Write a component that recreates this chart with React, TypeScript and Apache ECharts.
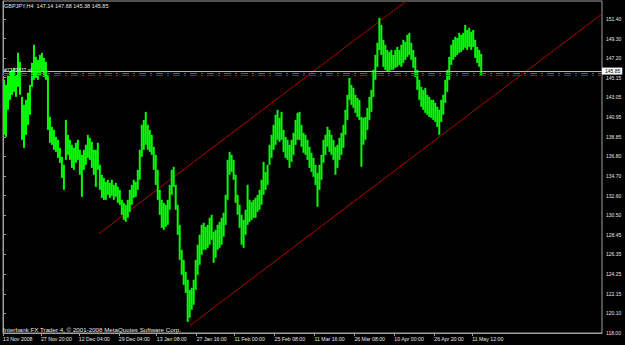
import React, { useEffect, useRef } from "react";
import * as echarts from "echarts";

const symbolTitle = "GBPJPY,H4  147.14 147.68 145.38 145.85";
const copyright = "Interbank FX Trader 4, © 2001-2008 MetaQuotes Software Corp.";

const priceTicks = [118.0, 120.1, 122.15, 124.25, 126.35, 128.45, 130.5, 132.6, 134.7, 136.8, 138.85, 140.95, 143.05, 145.15, 147.2, 149.3, 151.4];

const timeLabels = ["13 Nov 2008", "27 Nov 20:00", "12 Dec 04:00", "29 Dec 04:00", "13 Jan 08:00", "27 Jan 16:00", "11 Feb 00:00", "25 Feb 08:00", "11 Mar 16:00", "26 Mar 08:00", "10 Apr 00:00", "26 Apr 20:00", "11 May 12:00"];
const timeLabelBars = [0, 19, 38, 58, 77, 97, 116, 136, 156, 176, 196, 216, 235];

const barHighs = [
  144.92, 144.38, 145.45, 145.77, 145.98, 146.19, 145.45, 147.79, 146.83, 143.11,
  142.26, 142.79, 143.53, 144.38, 146.72, 148.64, 147.36, 147.04, 147.57, 147.79,
  147.25, 146.83, 145.45, 140.98, 139.92, 139.60, 138.86, 138.54, 137.69, 136.73,
  135.88, 140.66, 139.07, 138.54, 138.01, 137.69, 138.22, 138.54, 137.48, 136.94,
  137.48, 138.01, 139.07, 138.75, 138.33, 137.48, 137.48, 138.22, 135.88, 134.82,
  134.50, 134.07, 134.29, 133.97, 134.29, 133.75, 133.97, 133.54, 133.22, 132.16,
  131.84, 131.63, 132.16, 133.22, 133.75, 134.29, 134.07, 135.35, 137.48, 140.13,
  140.66, 141.51, 140.13, 139.60, 139.07, 137.80, 136.94, 135.35, 133.22, 132.16,
  131.84, 131.63, 132.16, 133.75, 135.35, 135.67, 133.75, 131.63, 129.50, 126.85,
  125.78, 124.51, 123.66, 122.59, 122.81, 123.66, 125.78, 127.38, 128.44, 129.50,
  129.72, 129.29, 129.50, 130.25, 130.57, 128.76, 128.97, 129.50, 129.82, 130.25,
  130.78, 132.69, 136.41, 137.26, 136.94, 136.41, 134.82, 132.69, 131.63, 130.57,
  130.03, 131.10, 133.75, 132.16, 131.95, 132.16, 132.37, 132.69, 133.22, 134.29,
  136.20, 135.13, 135.88, 138.01, 139.07, 140.13, 141.20, 141.73, 140.88, 141.51,
  139.60, 138.86, 138.54, 138.01, 138.54, 139.28, 140.66, 141.41, 141.51, 140.13,
  139.28, 139.07, 138.54, 137.80, 137.16, 136.62, 135.88, 135.03, 135.88, 136.94,
  138.54, 139.07, 139.92, 139.60, 139.07, 138.54, 137.80, 138.01, 138.75, 139.28,
  140.13, 141.73, 143.32, 145.13, 144.38, 144.07, 143.32, 143.00, 142.79, 140.98,
  140.88, 140.98, 141.94, 143.11, 143.85, 145.98, 147.57, 148.85, 151.51, 150.76,
  149.17, 148.64, 148.10, 147.89, 148.10, 147.57, 148.10, 148.42, 148.10, 148.64,
  149.17, 148.96, 149.70, 149.91, 148.85, 148.10, 147.36, 145.98, 144.92, 144.17,
  143.85, 144.07, 143.32, 143.11, 142.79, 142.79, 142.47, 142.05, 141.73, 142.79,
  143.32, 144.92, 145.98, 147.36, 148.64, 149.17, 149.49, 149.38, 149.91, 149.70,
  149.91, 150.76, 150.23, 150.44, 150.02, 150.23, 149.17, 148.42, 148.10, 147.68,
];

const barLows = [
  139.07, 138.86, 141.73, 142.79, 143.32, 143.64, 143.11, 144.17, 143.32, 138.54,
  137.69, 139.07, 140.13, 141.20, 144.17, 144.92, 145.13, 144.92, 145.45, 145.77,
  145.23, 144.92, 139.60, 138.22, 138.01, 137.48, 137.26, 136.62, 136.09, 134.50,
  133.22, 136.41, 136.94, 136.41, 135.56, 135.35, 136.09, 136.41, 134.82, 132.48,
  135.35, 135.88, 136.62, 136.41, 135.56, 134.82, 133.54, 135.35, 133.22, 132.37,
  132.16, 132.16, 132.69, 132.37, 132.59, 132.16, 132.48, 131.84, 131.63, 130.57,
  130.03, 129.82, 130.25, 130.88, 131.63, 132.37, 132.48, 133.22, 134.29, 136.73,
  137.48, 138.01, 137.48, 137.26, 136.94, 135.35, 133.75, 132.16, 130.57, 129.18,
  128.97, 129.29, 129.50, 131.10, 132.69, 133.54, 131.10, 128.44, 125.78, 124.19,
  123.12, 122.27, 119.19, 119.62, 120.47, 121.00, 122.59, 124.19, 125.25, 126.31,
  126.85, 126.85, 127.06, 127.38, 127.91, 125.46, 126.00, 126.85, 127.06, 127.38,
  128.23, 129.50, 132.16, 134.82, 135.13, 134.29, 131.84, 130.57, 129.18, 127.38,
  127.06, 128.44, 129.50, 129.82, 130.03, 130.25, 130.25, 130.88, 131.10, 131.63,
  132.69, 133.22, 133.75, 135.88, 136.62, 137.48, 138.01, 138.54, 138.33, 138.54,
  137.26, 136.62, 136.41, 135.56, 136.20, 136.94, 138.01, 138.54, 138.54, 137.80,
  137.16, 136.94, 136.41, 135.56, 135.13, 134.60, 133.75, 131.42, 133.22, 134.29,
  136.09, 136.94, 137.80, 137.26, 136.94, 136.41, 134.82, 135.56, 136.41, 136.94,
  137.69, 139.07, 140.66, 142.79, 142.26, 141.94, 141.41, 140.98, 140.66, 135.67,
  138.01, 138.54, 139.60, 140.66, 141.51, 143.11, 144.92, 146.30, 148.10, 147.57,
  146.30, 145.98, 145.77, 145.77, 145.98, 145.98, 146.19, 146.30, 146.51, 146.30,
  146.72, 147.04, 147.36, 147.57, 147.04, 146.19, 145.23, 143.85, 142.79, 142.05,
  141.73, 141.41, 141.20, 140.98, 140.88, 140.66, 140.45, 139.92, 139.07, 140.45,
  141.20, 142.47, 143.64, 144.92, 146.51, 147.04, 147.36, 147.57, 147.79, 147.89,
  148.10, 148.32, 148.10, 148.42, 148.10, 148.42, 147.25, 146.72, 146.30, 145.38,
];

const totalSlots = 300;
const priceMin = 118.0;
const priceMax = 153.3;
const bidPrice = 145.85;
const orderPrice = 145.63;
const stopPrice = 145.42;
const orderLabel = "#7339837 sl";

// trend channel endpoints: [bar position, price]
const upperChannel = [[48, 128.55], [202, 153.3]];
const lowerChannel = [[93.5, 118.77], [300, 151.93]];

export default function App() {
  const ref = useRef<HTMLDivElement>(null);
  useEffect(() => {
    const chart = echarts.init(ref.current!, null, { renderer: "svg" });
    const bars = barHighs.map((h, i) => [i + 0.5, barLows[i], h]);
    const font = "Liberation Sans";
    const txt = "#e6e6e6";
    const frame = "#a0a0a0";
    const smallText = { color: txt, fontSize: 5.5, fontWeight: "normal" as const, fontFamily: font };
    chart.setOption({
      animation: false,
      backgroundColor: "#000000",
      title: [
        { text: symbolTitle, left: 4, top: 3, padding: 0, textStyle: smallText },
        { text: copyright, left: 3, top: 326, padding: 0, textStyle: { ...smallText, fontSize: 6.2 } },
      ],
      grid: {
        left: 2, right: 23, top: 1, bottom: 12,
        show: true, borderColor: frame, borderWidth: 1, backgroundColor: "#000000",
      },
      xAxis: {
        type: "value", min: 0, max: totalSlots, position: "bottom",
        axisLine: { show: true, lineStyle: { color: frame } },
        axisTick: { show: true, length: 3, customValues: timeLabelBars, lineStyle: { color: frame } },
        axisLabel: {
          customValues: timeLabelBars,
          formatter: (v: number) => {
            const k = timeLabelBars.indexOf(Math.round(v));
            return k >= 0 ? timeLabels[k] : "";
          },
          align: "left", margin: 3, color: txt, fontSize: 5.2, fontFamily: font, hideOverlap: false,
        },
        splitLine: { show: false },
      },
      yAxis: {
        type: "value", position: "right", min: priceMin, max: priceMax,
        axisLine: { show: true, lineStyle: { color: frame } },
        axisTick: { show: true, length: 3, customValues: priceTicks, lineStyle: { color: frame } },
        axisLabel: {
          customValues: priceTicks,
          formatter: (v: number) => v.toFixed(2),
          margin: 4, color: txt, fontSize: 5, fontFamily: font, hideOverlap: false,
        },
        splitLine: { show: false },
      },
      series: [
        {
          type: "line", data: upperChannel, symbol: "none", silent: true,
          lineStyle: { color: "#b00000", width: 1 }, z: 1,
        },
        {
          type: "line", data: lowerChannel, symbol: "none", silent: true,
          lineStyle: { color: "#b00000", width: 1 }, z: 1,
        },
        {
          type: "custom", data: bars, silent: true, z: 2, clip: true,
          encode: { x: 0, y: [1, 2] },
          renderItem: (params: any, api: any) => {
            const x = api.value(0);
            const lo = api.coord([x, api.value(1)]);
            const hi = api.coord([x, api.value(2)]);
            const w = api.size([1, 0])[0];
            return {
              type: "rect",
              shape: { x: lo[0] - w / 2, y: hi[1], width: w, height: Math.max(1, lo[1] - hi[1]) },
              style: { fill: "#00ff00" },
            };
          },
          markLine: {
            silent: true, symbol: ["none", "none"], animation: false,
            data: [
              {
                yAxis: bidPrice,
                lineStyle: { color: "#b4b4b4", type: "solid", width: 1 },
                label: {
                  show: true, position: "end", formatter: bidPrice.toFixed(2), distance: 0,
                  backgroundColor: "#ffffff", color: "#000000", fontSize: 5, fontFamily: font, padding: [1, 2, 1, 3],
                },
              },
              {
                yAxis: orderPrice,
                lineStyle: { color: "#00a000", type: [7, 4, 2, 4], width: 1 },
                label: { show: true, position: "insideStartTop", formatter: orderLabel, distance: 1, color: txt, fontSize: 5, fontFamily: font },
              },
              {
                yAxis: stopPrice,
                lineStyle: { color: "#c00000", type: [7, 4, 2, 4], width: 1 },
                label: { show: false },
              },
            ],
          },
        },
      ],
    });
    return () => chart.dispose();
  }, []);
  return <div ref={ref} style={{ position: "fixed", left: 0, top: 0, width: 625, height: 345 }} />;
}
